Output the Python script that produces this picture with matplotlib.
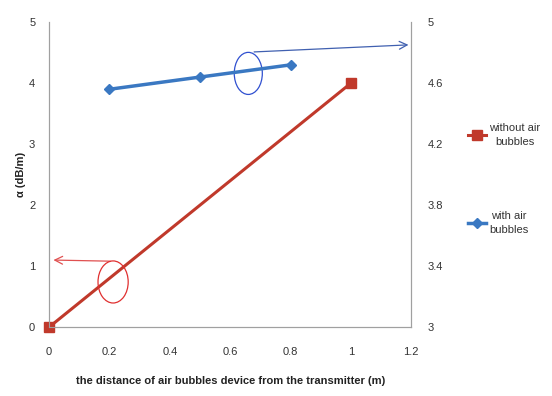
import matplotlib
matplotlib.use("Agg")
import matplotlib.pyplot as plt
from matplotlib.patches import Ellipse
from matplotlib.lines import Line2D

x_without = [0, 1]
y_without = [0, 4]
x_with = [0.2, 0.5, 0.8]
y_with = [4.56, 4.64, 4.72]
left_ticks = [0, 1, 2, 3, 4, 5]
right_ticks = [3, 3.4, 3.8, 4.2, 4.6, 5]
right_labels = ["3", "3.4", "3.8", "4.2", "4.6", "5"]
x_ticks = [0, 0.2, 0.4, 0.6, 0.8, 1, 1.2]
x_labels = ["0", "0.2", "0.4", "0.6", "0.8", "1", "1.2"]

red = "#c0392b"
blue = "#3a78c2"
gray = "#a0a0a0"

plt.rcParams['font.family'] = ['Liberation Sans', 'DejaVu Sans']
fig = plt.figure(figsize=(5.52, 3.96), dpi=100)
ax = fig.add_axes([0.089, 0.174, 0.656, 0.77])
ax2 = ax.twinx()

ax.plot(x_without, y_without, color=red, lw=2.2, marker='s', ms=7, clip_on=False, zorder=5)
ax2.plot(x_with, y_with, color=blue, lw=2.5, marker='D', ms=5, clip_on=False, zorder=5)

ax.set_xlim(0, 1.2)
ax.set_ylim(0, 5)
ax2.set_ylim(3, 5)
ax.set_xticks(x_ticks)
ax.set_xticklabels(x_labels)
ax.set_yticks(left_ticks)
ax2.set_yticks(right_ticks)
ax2.set_yticklabels(right_labels)

for a in (ax, ax2):
    for s in a.spines.values():
        s.set_color(gray)
    a.spines['top'].set_visible(False)
    a.tick_params(length=0, labelsize=8, colors='#333333')
ax.tick_params(axis='x', pad=14)
ax.tick_params(axis='y', pad=10)
ax2.tick_params(axis='y', pad=12)

ax.set_ylabel("α (dB/m)", fontsize=8, fontweight='bold', color='#222222', labelpad=2)
ax.set_xlabel("the distance of air bubbles device from the transmitter (m)", fontsize=8,
              fontweight='bold', color='#222222', labelpad=14)

# annotations
ax.add_patch(Ellipse((0.212, 0.74), 0.1, 0.69, fill=False, ec='#e03030', lw=0.9, zorder=6))
ax.annotate("", xy=(0.005, 1.1), xytext=(0.212, 1.08),
            arrowprops=dict(arrowstyle='->', color='#e05050', lw=0.9, mutation_scale=14))
ax.add_patch(Ellipse((0.66, 4.16), 0.093, 0.69, fill=False, ec='#3050d0', lw=0.9, zorder=6))
ax.annotate("", xy=(1.2, 4.63), xytext=(0.67, 4.51),
            arrowprops=dict(arrowstyle='->', color='#4060b0', lw=0.9, mutation_scale=14),
            annotation_clip=False)

handles = [Line2D([], [], color=red, lw=2.2, marker='s', ms=7),
           Line2D([], [], color=blue, lw=2.5, marker='D', ms=5)]
leg = fig.legend(handles, ["without air\nbubbles", "with air\nbubbles"], loc='upper left',
                 bbox_to_anchor=(0.83, 0.715), frameon=False, fontsize=8, labelspacing=5.8,
                 handlelength=1.6, handletextpad=0.3, labelcolor='#333333')
for t in leg.get_texts():
    t.set_multialignment('center')
    t.set_linespacing(1.5)

fig.savefig("out.png", dpi=100)
